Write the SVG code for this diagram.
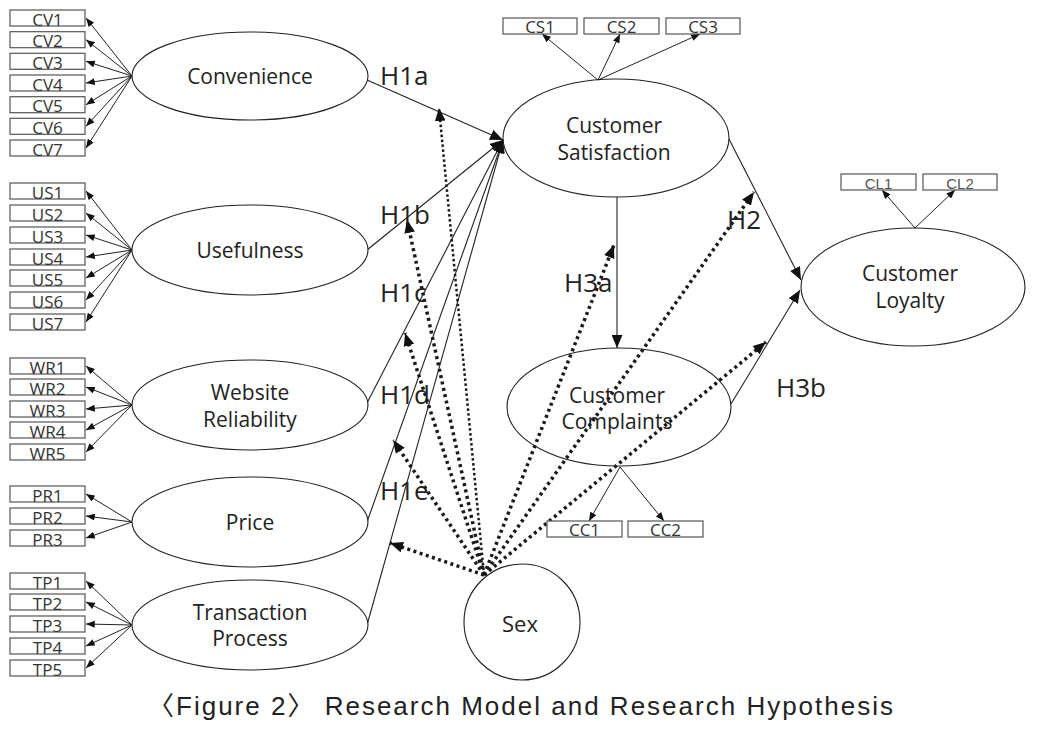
<svg xmlns="http://www.w3.org/2000/svg" width="1045" height="735" viewBox="0 0 1045 735">
<defs>
<marker id="ah" viewBox="0 0 10 8" refX="10" refY="4" markerWidth="9" markerHeight="7" markerUnits="userSpaceOnUse" orient="auto"><path d="M0,0 L10,4 L0,8 z" fill="#111"/></marker>
<marker id="ahb" viewBox="0 0 12 10" refX="12" refY="5" markerWidth="13" markerHeight="11" markerUnits="userSpaceOnUse" orient="auto"><path d="M0,0 L12,5 L0,10 z" fill="#111"/></marker>
</defs>
<style>
.bg{fill:#fff}
.box{fill:#fff;stroke:#555;stroke-width:1.2}
.it{font-family:"Open Sans","Liberation Sans",sans-serif;font-size:17px;fill:#333;text-anchor:middle}
.it2{font-family:"Open Sans","Liberation Sans",sans-serif;font-size:17px;fill:#333;text-anchor:middle}
.it3{font-family:"Liberation Sans",sans-serif;font-size:15px;fill:#555;text-anchor:middle}
.ell{fill:#fff;stroke:#222;stroke-width:1.1}
.lt{font-family:"Open Sans","Liberation Sans",sans-serif;font-size:21px;fill:#222;text-anchor:middle}
.ind{fill:none;stroke:#222;stroke-width:1;marker-end:url(#ah)}
.pth{fill:none;stroke:#222;stroke-width:1.1;marker-end:url(#ahb)}
.dot{fill:none;stroke:#1a1a1a;stroke-width:3.5;stroke-dasharray:3 3.5;marker-end:url(#ahb)}
.dotf{fill:none;stroke:#1a1a1a;stroke-width:2.5;stroke-dasharray:2.5 2.5;marker-end:url(#ahb)}
.hl{font-family:"Open Sans","Liberation Sans",sans-serif;font-size:26px;fill:#222}
.cap{font-family:"Liberation Sans","Noto Sans CJK KR",sans-serif;font-size:26px;fill:#222}
</style>
<rect class="bg" x="0" y="0" width="1045" height="735"/>

<g id="connectors">
<line class="ind" x1="132" y1="76" x2="86" y2="18"/>
<line class="ind" x1="132" y1="76" x2="86" y2="39.7"/>
<line class="ind" x1="132" y1="76" x2="86" y2="61.3"/>
<line class="ind" x1="132" y1="76" x2="86" y2="83"/>
<line class="ind" x1="132" y1="76" x2="86" y2="104.7"/>
<line class="ind" x1="132" y1="76" x2="86" y2="126.3"/>
<line class="ind" x1="132" y1="76" x2="86" y2="148"/>

<line class="ind" x1="132" y1="250" x2="86" y2="191"/>
<line class="ind" x1="132" y1="250" x2="86" y2="213"/>
<line class="ind" x1="132" y1="250" x2="86" y2="235"/>
<line class="ind" x1="132" y1="250" x2="86" y2="257"/>
<line class="ind" x1="132" y1="250" x2="86" y2="278"/>
<line class="ind" x1="132" y1="250" x2="86" y2="300"/>
<line class="ind" x1="132" y1="250" x2="86" y2="322"/>

<line class="ind" x1="132" y1="405" x2="86" y2="366"/>
<line class="ind" x1="132" y1="405" x2="86" y2="387"/>
<line class="ind" x1="132" y1="405" x2="86" y2="409"/>
<line class="ind" x1="132" y1="405" x2="86" y2="430"/>
<line class="ind" x1="132" y1="405" x2="86" y2="452"/>

<line class="ind" x1="132" y1="522" x2="86" y2="494"/>
<line class="ind" x1="132" y1="522" x2="86" y2="516"/>
<line class="ind" x1="132" y1="522" x2="86" y2="538"/>

<line class="ind" x1="132" y1="625" x2="86" y2="581"/>
<line class="ind" x1="132" y1="625" x2="86" y2="602"/>
<line class="ind" x1="132" y1="625" x2="86" y2="624"/>
<line class="ind" x1="132" y1="625" x2="86" y2="646"/>
<line class="ind" x1="132" y1="625" x2="86" y2="668"/>

<line class="ind" x1="598" y1="80" x2="542" y2="34"/>
<line class="ind" x1="598" y1="80" x2="620" y2="34"/>
<line class="ind" x1="598" y1="80" x2="700" y2="34"/>

<line class="ind" x1="620" y1="467" x2="589" y2="521"/>
<line class="ind" x1="620" y1="467" x2="664" y2="521"/>

<line class="ind" x1="915" y1="228" x2="882" y2="190"/>
<line class="ind" x1="915" y1="228" x2="955" y2="190"/>

<line class="pth" x1="367" y1="80" x2="503" y2="140"/>
<line class="pth" x1="367" y1="250" x2="503" y2="140"/>
<line class="pth" x1="367" y1="403" x2="503" y2="140"/>
<line class="pth" x1="367" y1="522" x2="503" y2="140"/>
<line class="pth" x1="367" y1="625" x2="503" y2="140"/>
<line class="pth" x1="617" y1="197" x2="617" y2="348"/>
<line class="pth" x1="729" y1="139" x2="801" y2="280"/>
<line class="pth" x1="731" y1="404" x2="800" y2="290"/>

<line class="dotf" x1="484" y1="575" x2="439" y2="108"/>
<line class="dot" x1="484" y1="575" x2="407" y2="220"/>
<line class="dot" x1="484" y1="575" x2="405" y2="333"/>
<line class="dot" x1="484" y1="575" x2="393" y2="440"/>
<line class="dot" x1="484" y1="575" x2="390" y2="543"/>
<line class="dot" x1="484" y1="575" x2="614" y2="245"/>
<line class="dot" x1="484" y1="575" x2="754" y2="192"/>
<line class="dot" x1="484" y1="575" x2="766" y2="342"/>
</g>

<g id="CV">
<rect class="box" x="10" y="10" width="75" height="16"/><text class="it" x="47.5" y="25.5">CV1</text>
<rect class="box" x="10" y="31.7" width="75" height="16"/><text class="it" x="47.5" y="47.2">CV2</text>
<rect class="box" x="10" y="53.3" width="75" height="16"/><text class="it" x="47.5" y="68.8">CV3</text>
<rect class="box" x="10" y="75" width="75" height="16"/><text class="it" x="47.5" y="90.5">CV4</text>
<rect class="box" x="10" y="96.7" width="75" height="16"/><text class="it" x="47.5" y="112.2">CV5</text>
<rect class="box" x="10" y="118.3" width="75" height="16"/><text class="it" x="47.5" y="133.8">CV6</text>
<rect class="box" x="10" y="140" width="75" height="16"/><text class="it" x="47.5" y="155.5">CV7</text>
</g>
<g id="US">
<rect class="box" x="10" y="183" width="75" height="16"/><text class="it" x="47.5" y="198.5">US1</text>
<rect class="box" x="10" y="205" width="75" height="16"/><text class="it" x="47.5" y="220.5">US2</text>
<rect class="box" x="10" y="227" width="75" height="16"/><text class="it" x="47.5" y="242.5">US3</text>
<rect class="box" x="10" y="249" width="75" height="16"/><text class="it" x="47.5" y="264.5">US4</text>
<rect class="box" x="10" y="270" width="75" height="16"/><text class="it" x="47.5" y="285.5">US5</text>
<rect class="box" x="10" y="292" width="75" height="16"/><text class="it" x="47.5" y="307.5">US6</text>
<rect class="box" x="10" y="314" width="75" height="16"/><text class="it" x="47.5" y="329.5">US7</text>
</g>
<g id="WR">
<rect class="box" x="10" y="358" width="75" height="16"/><text class="it" x="47.5" y="373.5">WR1</text>
<rect class="box" x="10" y="379" width="75" height="16"/><text class="it" x="47.5" y="394.5">WR2</text>
<rect class="box" x="10" y="401" width="75" height="16"/><text class="it" x="47.5" y="416.5">WR3</text>
<rect class="box" x="10" y="422" width="75" height="16"/><text class="it" x="47.5" y="437.5">WR4</text>
<rect class="box" x="10" y="444" width="75" height="16"/><text class="it" x="47.5" y="459.5">WR5</text>
</g>
<g id="PR">
<rect class="box" x="10" y="486" width="75" height="16"/><text class="it" x="47.5" y="501.5">PR1</text>
<rect class="box" x="10" y="508" width="75" height="16"/><text class="it" x="47.5" y="523.5">PR2</text>
<rect class="box" x="10" y="530" width="75" height="16"/><text class="it" x="47.5" y="545.5">PR3</text>
</g>
<g id="TP">
<rect class="box" x="10" y="573" width="75" height="16"/><text class="it" x="47.5" y="588.5">TP1</text>
<rect class="box" x="10" y="594" width="75" height="16"/><text class="it" x="47.5" y="609.5">TP2</text>
<rect class="box" x="10" y="616" width="75" height="16"/><text class="it" x="47.5" y="631.5">TP3</text>
<rect class="box" x="10" y="638" width="75" height="16"/><text class="it" x="47.5" y="653.5">TP4</text>
<rect class="box" x="10" y="660" width="75" height="16"/><text class="it" x="47.5" y="675.5">TP5</text>
</g>
<g id="CS">
<rect class="box" x="503" y="18" width="74" height="16"/><text class="it2" x="540" y="33">CS1</text>
<rect class="box" x="584" y="18" width="75" height="16"/><text class="it2" x="621.5" y="33">CS2</text>
<rect class="box" x="666" y="18" width="74" height="16"/><text class="it2" x="703" y="33">CS3</text>
</g>
<g id="CC">
<rect class="box" x="547" y="521" width="75" height="16"/><text class="it2" x="584.5" y="536">CC1</text>
<rect class="box" x="628" y="521" width="75" height="16"/><text class="it2" x="665.5" y="536">CC2</text>
</g>
<g id="CL">
<rect class="box" x="841" y="174" width="75" height="16"/><text class="it3" x="878.5" y="189">CL1</text>
<rect class="box" x="923" y="174" width="74" height="16"/><text class="it3" x="960" y="189">CL2</text>
</g>

<g id="convenience"><ellipse class="ell" cx="250" cy="76" rx="118" ry="44"/><text class="lt" x="250" y="84">Convenience</text></g>
<g id="usefulness"><ellipse class="ell" cx="250" cy="250" rx="118" ry="45"/><text class="lt" x="250" y="258">Usefulness</text></g>
<g id="website-reliability"><ellipse class="ell" cx="250" cy="405" rx="118" ry="45"/><text class="lt" x="250" y="400">Website</text><text class="lt" x="250" y="427">Reliability</text></g>
<g id="price"><ellipse class="ell" cx="250" cy="522" rx="118" ry="45"/><text class="lt" x="250" y="530">Price</text></g>
<g id="transaction-process"><ellipse class="ell" cx="250" cy="625" rx="118" ry="45"/><text class="lt" x="250" y="620">Transaction</text><text class="lt" x="250" y="646">Process</text></g>
<g id="customer-satisfaction"><ellipse class="ell" cx="616" cy="138" rx="113" ry="59" style="fill:none"/><text class="lt" x="614" y="133">Customer</text><text class="lt" x="614" y="160">Satisfaction</text></g>
<g id="customer-complaints"><ellipse class="ell" cx="619" cy="407" rx="112" ry="59" style="fill:none"/><text class="lt" x="617" y="403">Customer</text><text class="lt" x="617" y="429">Complaints</text></g>
<g id="customer-loyalty"><ellipse class="ell" cx="913" cy="287" rx="112" ry="59"/><text class="lt" x="910" y="281">Customer</text><text class="lt" x="910" y="308">Loyalty</text></g>
<g id="sex"><circle class="ell" cx="522" cy="622" r="58" style="fill:none"/><text class="lt" x="520" y="632" style="font-size:22px">Sex</text></g>

<g id="labels">
<text class="hl" x="380" y="85">H1a</text>
<text class="hl" x="380" y="224">H1b</text>
<text class="hl" x="380" y="302">H1c</text>
<text class="hl" x="380" y="404">H1d</text>
<text class="hl" x="380" y="500">H1e</text>
<text class="hl" x="564" y="292">H3a</text>
<text class="hl" x="727" y="229">H2</text>
<text class="hl" x="776" y="397">H3b</text>
</g>
<text class="cap" x="148" y="715" textLength="745" lengthAdjust="spacing">〈Figure 2〉 Research Model and Research Hypothesis</text>
</svg>
